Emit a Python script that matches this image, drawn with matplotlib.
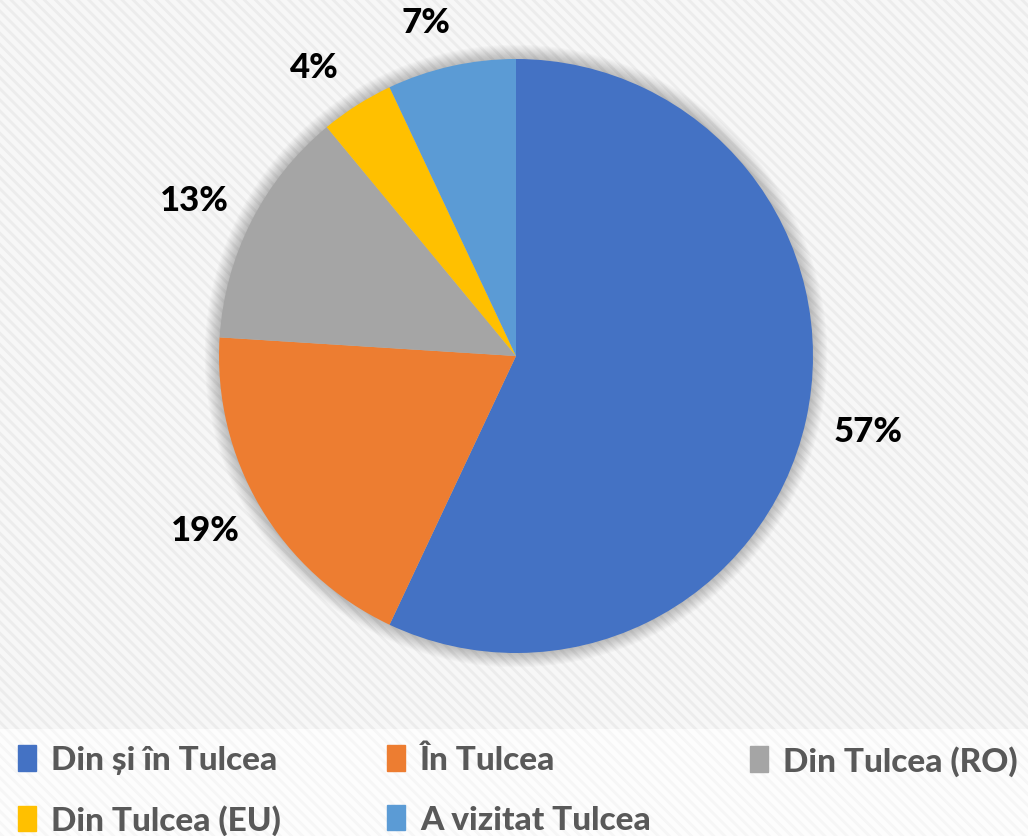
import numpy as np
import matplotlib.pyplot as plt
from matplotlib.patches import Rectangle, Circle

plt.rcParams['font.family'] = ['Lato', 'DejaVu Sans']
plt.rcParams['hatch.linewidth'] = 2.0

# date
categorii = ["Din și în Tulcea", "În Tulcea", "Din Tulcea (RO)", "Din Tulcea (EU)", "A vizitat Tulcea"]
procente = [57, 19, 13, 4, 7]
culori = ["#4472C4", "#ED7D31", "#A5A5A5", "#FFC000", "#5B9BD5"]

fig = plt.figure(figsize=(10.28, 8.37), dpi=100, facecolor="white")

# fundal cu textura diagonala (zona graficului)
bg = Rectangle((0, 107 / 837), 1, 1 - 107 / 837, transform=fig.transFigure,
               facecolor="#f7f7f7", edgecolor="#ececec", hatch="\\\\\\", lw=0, zorder=-5)
fig.patches.append(bg)
bg2 = Rectangle((0, 0), 1, 107 / 837, transform=fig.transFigure,
                facecolor="#fdfdfd", edgecolor="#f6f6f6", hatch="\\\\\\", lw=0, zorder=-5)
fig.patches.append(bg2)

# axa pentru pie: centru (516, 357) px, raza 297 px
R_PX = 297
half = 400
ax = fig.add_axes([(516 - half) / 1028, (837 - 357 - half) / 837, 2 * half / 1028, 2 * half / 837])
ax.set_facecolor("none")
ax.set_zorder(2)
lim = half / R_PX

# umbra difuza
for i in range(12):
    ax.add_patch(Circle((0, 0), 1 + 0.004 * (i + 1), color="black", alpha=0.018, lw=0, zorder=1))

wedges, texts, autotexts = ax.pie(procente, colors=culori, startangle=90, counterclock=False,
                                  autopct=lambda p: f"{p:.0f}%", pctdistance=1.1,
                                  radius=1, frame=False,
                                  textprops=dict(fontsize=25, fontweight="black", color="black"),
                                  wedgeprops=dict(linewidth=0, zorder=2))
ax.set_xlim(-lim, lim)
ax.set_ylim(-lim, lim)
ax.set_aspect("equal")
ax.axis("off")

# etichete "outside end": coltul casetei lipit de raza 1.1
fig.canvas.draw()
renderer = fig.canvas.get_renderer()
for w, t in zip(wedges, autotexts):
    th = np.deg2rad((w.theta1 + w.theta2) / 2)
    bb = t.get_window_extent(renderer)
    c, s = np.cos(th), np.sin(th)
    x = 1.1 * c + bb.width / 2 / R_PX * c
    y = 1.1 * s + bb.height / 2 / R_PX * s
    if abs(c) < 0.6:
        x -= 0.045
    t.set_position((x, y))
    t.set_ha("center")
    t.set_va("center")
    t.set_clip_on(False)

# legenda: cate o coloana
coloane = [([0, 3], 18), ([1, 4], 387), ([2], 750)]
for idx, x_px in coloane:
    handles = [Rectangle((0, 0), 1, 1, color=culori[i]) for i in idx]
    labels = [categorii[i] for i in idx]
    leg = fig.legend(handles, labels, loc="upper left", bbox_to_anchor=(x_px / 1028, 1 - 746 / 837),
                     frameon=False, fontsize=24, handlelength=0.55, handleheight=0.8,
                     handletextpad=0.45, labelspacing=0.9, borderpad=0, borderaxespad=0)
    for t in leg.get_texts():
        t.set_color("#595959")
        t.set_fontweight("black")

fig.savefig("out.png", dpi=100, facecolor=fig.get_facecolor())
